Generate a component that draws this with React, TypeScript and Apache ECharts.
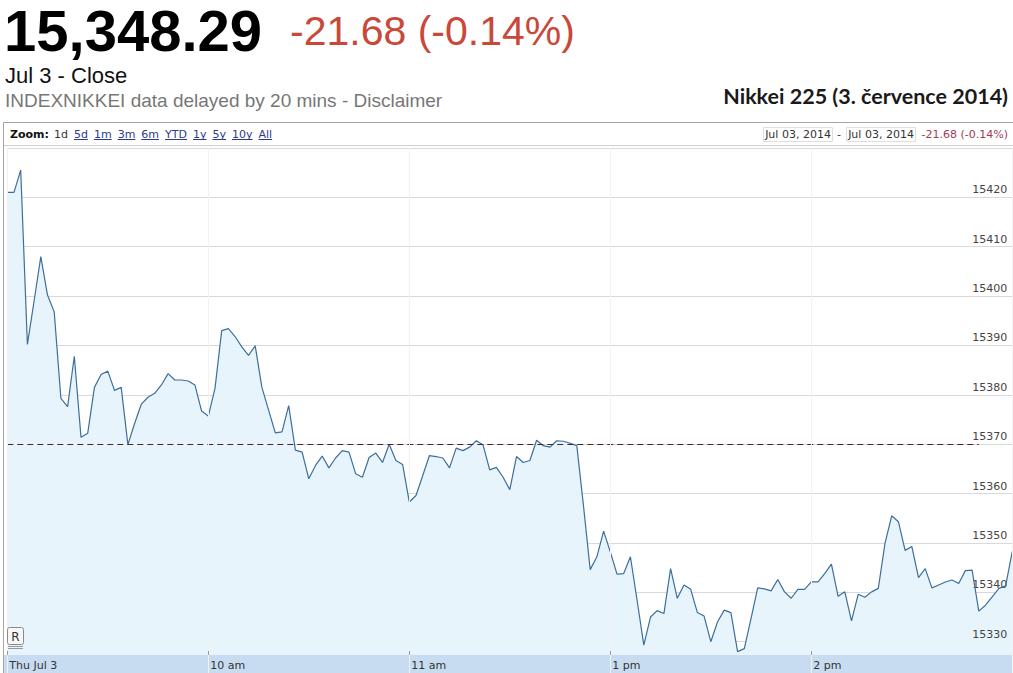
import React, { useEffect, useRef } from 'react';
import * as echarts from 'echarts';

// ---- data (Nikkei 225 intraday, 3 July 2014, one point every 2 trading minutes) ----
const stepMinutes = 2;
const prices: number[] = [
  15421.0, 15421.0, 15425.5, 15390.2, 15399.0, 15408.0, 15400.2, 15396.8, 15379.3, 15377.6,
  15387.8, 15371.4, 15372.2, 15381.5, 15384.1, 15384.8, 15380.9, 15381.5, 15369.9, 15374.2,
  15378.1, 15379.5, 15380.3, 15382.0, 15384.3, 15383.0, 15383.0, 15382.8, 15382.0, 15376.7,
  15375.7, 15381.3, 15393.0, 15393.4, 15391.8, 15389.7, 15388.0, 15389.9, 15381.5, 15376.9,
  15372.3, 15372.5, 15377.8, 15368.8, 15368.4, 15363.0, 15365.7, 15367.6, 15365.2, 15367.2,
  15368.7, 15368.4, 15364.0, 15363.3, 15367.3, 15368.2, 15366.3, 15370.0, 15366.7, 15365.9,
  15358.3, 15359.6, 15363.6, 15367.7, 15367.5, 15367.2, 15365.2, 15369.2, 15368.7, 15369.4,
  15370.7, 15369.9, 15364.8, 15365.3, 15363.3, 15360.8, 15367.5, 15366.3, 15366.7, 15370.8,
  15369.7, 15369.4, 15370.7, 15370.6, 15370.2, 15369.7, 15357.5, 15344.6, 15347.2, 15352.4,
  15348.2, 15343.7, 15343.8, 15347.2, 15338.4, 15329.3, 15335.0, 15336.3, 15335.7, 15344.8,
  15338.8, 15341.5, 15340.6, 15335.9, 15335.2, 15330.0, 15334.0, 15336.4, 15335.9, 15328.0,
  15328.6, 15334.7, 15340.9, 15340.7, 15340.3, 15342.6, 15340.1, 15338.8, 15340.6, 15340.6,
  15342.1, 15342.1, 15343.8, 15345.7, 15339.2, 15340.1, 15334.2, 15339.6, 15339.0, 15340.1,
  15340.8, 15349.9, 15355.5, 15354.3, 15348.5, 15349.3, 15343.0, 15344.8, 15340.9, 15341.5,
  15342.1, 15342.5, 15341.8, 15344.4, 15344.5, 15336.2, 15337.4, 15339.1, 15340.8, 15341.3,
  15348.3,
];
const previousClose = 15369.97;
const dashEndMinute = 290;
const sessionMinutes = 300;

const xTickValues = [0, 60, 120, 180, 240];
const xTickLabels = ['Thu Jul 3', '10 am', '11 am', '1 pm', '2 pm'];
const yMin = 15320;
const yMax = 15430;
const yStep = 10;

const lastPriceText = '15,348.29';
const changeText = '-21.68 (-0.14%)';
const closeText = 'Jul 3 - Close';
const delayText = 'INDEXNIKKEI data delayed by 20 mins - Disclaimer';
const titleText = 'Nikkei 225 (3. července 2014)';
const zoomLabel = 'Zoom:';
const zoomLinks = ['1d', '5d', '1m', '3m', '6m', 'YTD', '1y', '5y', '10y', 'All'];
const rangeFrom = 'Jul 03, 2014';
const rangeTo = 'Jul 03, 2014';

const SMALL_FONT = '"DejaVu Sans", Verdana, sans-serif';
const ARIAL = '"Liberation Sans", Arial, sans-serif';

// container is taller than the window so that the lowest (hidden) gridline lies below the visible band
const CONTAINER_H = 700;

export default function App() {
  const ref = useRef<HTMLDivElement>(null);

  useEffect(() => {
    const chart = echarts.init(ref.current!, null, { renderer: 'svg' });
    const ctx = document.createElement('canvas').getContext('2d')!;
    const w = (s: string) => ctx.measureText(s).width;

    const data = prices.map((v, i) => [i * stepMinutes, v]);

    // toolbar zoom links
    const toolbar: any[] = [];
    ctx.font = 'bold 11px "DejaVu Sans"';
    const zoomW = ctx.measureText(zoomLabel).width;
    ctx.font = '11px "DejaVu Sans"';
    toolbar.push({
      type: 'text', x: 10, y: 134, z: 40,
      style: { text: zoomLabel, font: `bold 11px ${SMALL_FONT}`, fill: '#111', verticalAlign: 'middle' },
    });
    let lx = 10 + zoomW + 5;
    zoomLinks.forEach((s, i) => {
      const tw = w(s);
      const isCurrent = i === 0;
      toolbar.push({
        type: 'text', x: lx, y: 134, z: 40,
        style: { text: s, font: `11px ${SMALL_FONT}`, fill: isCurrent ? '#333' : '#2b3990', verticalAlign: 'middle' },
      });
      if (!isCurrent) {
        toolbar.push({
          type: 'line', z: 40,
          shape: { x1: lx, y1: 139.5, x2: lx + tw, y2: 139.5 },
          style: { stroke: '#2b3990', lineWidth: 1 },
        });
      }
      lx += tw + 6;
    });

    const gridTop = 147.9;
    const gridBottomPx = 691.1; // pixel row of yMin
    const axisRow = 655; // pixel row of the time axis band top

    const option: any = {
      animation: false,
      grid: { left: 7.3, right: 0.7, top: gridTop, bottom: CONTAINER_H - gridBottomPx },
      xAxis: {
        type: 'value', min: 0, max: sessionMinutes, interval: 60, z: 10,
        offset: axisRow - gridBottomPx,
        axisLine: { show: false },
        axisTick: { show: true, inside: true, length: 4, lineStyle: { color: '#999' } },
        splitLine: { show: true, lineStyle: { color: '#f2f2f2', width: 1 } },
        axisLabel: {
          show: true, align: 'left', margin: 5, padding: [0, 0, 0, 2],
          fontFamily: SMALL_FONT, fontSize: 11, color: '#333', showMaxLabel: false,
          formatter: (v: number) => {
            const i = xTickValues.indexOf(v);
            return i >= 0 ? xTickLabels[i] : '';
          },
        },
      },
      yAxis: {
        type: 'value', position: 'right', min: yMin, max: yMax, interval: yStep, z: 3,
        axisLine: { show: false }, axisTick: { show: false },
        splitLine: { show: true, lineStyle: { color: '#d9d9d9', width: 1 } },
        axisLabel: {
          inside: true, margin: 5, verticalAlign: 'bottom', padding: [0, 0, 2, 0],
          fontFamily: SMALL_FONT, fontSize: 11, color: '#444',
          showMaxLabel: false, showMinLabel: false,
          formatter: (v: number) => String(v),
        },
      },
      series: [
        {
          type: 'line', data, symbol: 'none', showSymbol: false,
          lineStyle: { color: '#3d6f9c', width: 1.2 },
          areaStyle: { color: '#e7f4fc', opacity: 1, origin: 'start' },
          markLine: {
            silent: true, symbol: ['none', 'none'], label: { show: false },
            lineStyle: { type: [6, 4], color: '#4a2626', width: 1 },
            data: [[{ coord: [0, previousClose] }, { coord: [dashEndMinute, previousClose] }]],
          },
        },
      ],
      graphic: [
        // header texts
        { type: 'text', x: 4, y: 30.5, z: 50, style: { text: lastPriceText, font: `bold 58px ${ARIAL}`, fill: '#000', verticalAlign: 'middle' } },
        { type: 'text', x: 290, y: 31, z: 50, style: { text: changeText, font: `41px ${ARIAL}`, fill: '#c9483a', verticalAlign: 'middle' } },
        { type: 'text', x: 5, y: 75.5, z: 50, style: { text: closeText, font: `22px ${ARIAL}`, fill: '#111', verticalAlign: 'middle' } },
        { type: 'text', x: 5, y: 100.4, z: 50, style: { text: delayText, font: `19px ${ARIAL}`, fill: '#777', verticalAlign: 'middle' } },
        { type: 'text', x: 1008, y: 95.5, z: 50, style: { text: titleText, font: `bold 21.5px Lato, "Open Sans", sans-serif`, fill: '#1a1a1a', align: 'right', verticalAlign: 'middle' } },
        // bottom axis band
        { type: 'rect', z: 5, shape: { x: 3.5, y: axisRow, width: 1010, height: 20 }, style: { fill: '#c8dcf1' } },
        // toolbar
        { type: 'rect', z: 19, shape: { x: 4, y: 123, width: 1009, height: 22 }, style: { fill: '#fff' } },
        { type: 'line', z: 20, shape: { x1: 4, y1: 145.5, x2: 1013, y2: 145.5 }, style: { stroke: '#d0d0d0', lineWidth: 1 } },
        ...toolbar,
        { type: 'rect', z: 40, shape: { x: 763.5, y: 127.5, width: 69, height: 14 }, style: { fill: '#fff', stroke: '#dedede', lineWidth: 1 } },
        { type: 'text', z: 41, x: 798, y: 134.5, style: { text: rangeFrom, font: `11px ${SMALL_FONT}`, fill: '#333', align: 'center', verticalAlign: 'middle' } },
        { type: 'text', z: 41, x: 839, y: 134.5, style: { text: '-', font: `11px ${SMALL_FONT}`, fill: '#333', align: 'center', verticalAlign: 'middle' } },
        { type: 'rect', z: 40, shape: { x: 846.5, y: 127.5, width: 69, height: 14 }, style: { fill: '#fff', stroke: '#dedede', lineWidth: 1 } },
        { type: 'text', z: 41, x: 881, y: 134.5, style: { text: rangeTo, font: `11px ${SMALL_FONT}`, fill: '#333', align: 'center', verticalAlign: 'middle' } },
        { type: 'text', z: 41, x: 1008, y: 134.5, style: { text: changeText, font: `11px ${SMALL_FONT}`, fill: '#a33a55', align: 'right', verticalAlign: 'middle' } },
        // R button
        { type: 'line', z: 40, shape: { x1: 8, y1: 648.5, x2: 23, y2: 648.5 }, style: { stroke: '#999', lineWidth: 1 } },
        { type: 'line', z: 40, shape: { x1: 8, y1: 646.5, x2: 23, y2: 646.5 }, style: { stroke: '#999', lineWidth: 1 } },
        { type: 'rect', z: 40, shape: { x: 7.5, y: 627.5, width: 16, height: 17, r: 2 }, style: { fill: '#f7f7f7', stroke: '#8a8a8a', lineWidth: 1 } },
        { type: 'text', z: 41, x: 15.5, y: 636.5, style: { text: 'R', font: `12px ${SMALL_FONT}`, fill: '#333', align: 'center', verticalAlign: 'middle' } },
        // frame
        { type: 'rect', z: 60, shape: { x: 3.5, y: 122.5, width: 1012, height: 570 }, style: { fill: 'none', stroke: '#a6a6a6', lineWidth: 1 } },
      ],
    };
    chart.setOption(option);
    return () => chart.dispose();
  }, []);

  return (
    <div
      ref={ref}
      style={{ position: 'fixed', left: 0, top: 0, width: 1013, height: CONTAINER_H, background: '#fff' }}
    />
  );
}
